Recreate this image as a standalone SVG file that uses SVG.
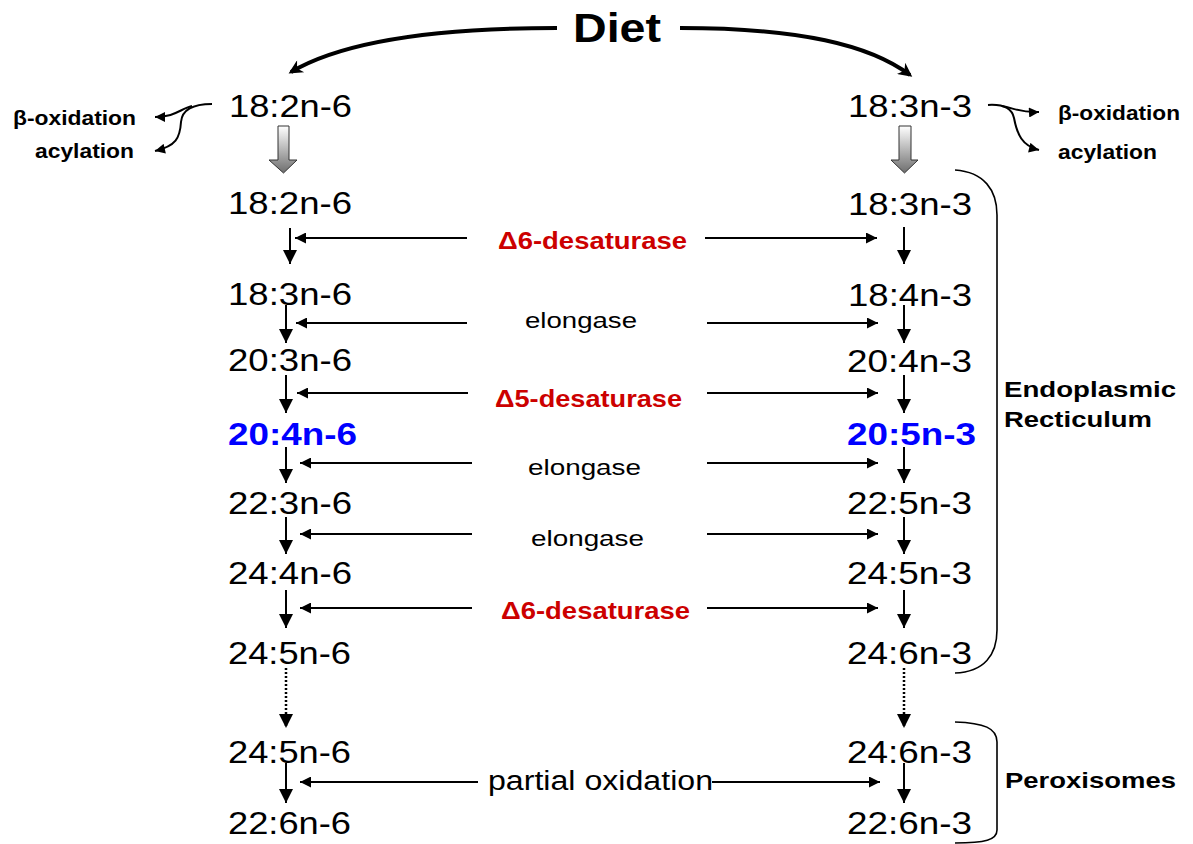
<svg xmlns="http://www.w3.org/2000/svg" width="1193" height="844" viewBox="0 0 1193 844">
<style>
text{font-family:"Liberation Sans",Arial,sans-serif;fill:#000}
.fa{font-size:31.5px}
.blue{font-size:31px;font-weight:bold;fill:#0000ff}
.red{font-size:24px;font-weight:bold;fill:#cc0000}
.enz{font-size:22px}
.side{font-size:20px;font-weight:bold}
.loc{font-size:22px;font-weight:bold}
.ln{stroke:#000;stroke-width:2;fill:none}
.dot{stroke:#000;stroke-width:2.5;fill:none;stroke-dasharray:2,2}
.brk{stroke:#000;stroke-width:1.6;fill:none}
</style>
<defs>
<marker id="ah" viewBox="0 0 10 10" refX="10" refY="5" markerUnits="userSpaceOnUse" markerWidth="13" markerHeight="11" orient="auto"><path d="M0,0 L10,5 L0,10 z" fill="#000"/></marker>
<marker id="ahv" viewBox="0 0 10 10" refX="10" refY="5" markerUnits="userSpaceOnUse" markerWidth="14" markerHeight="14" orient="auto"><path d="M0,0 L10,5 L0,10 z" fill="#000"/></marker>
<marker id="ahs" viewBox="0 0 10 10" refX="10" refY="5" markerUnits="userSpaceOnUse" markerWidth="11" markerHeight="10" orient="auto"><path d="M0,0 L10,5 L0,10 z" fill="#000"/></marker>
<marker id="ahb" viewBox="0 0 10 10" refX="8" refY="5" markerUnits="userSpaceOnUse" markerWidth="16" markerHeight="14" orient="auto"><path d="M0,0 L10,5 L0,10 L3,5 z" fill="#000"/></marker>
<linearGradient id="gr" x1="0" y1="0" x2="0" y2="1"><stop offset="0" stop-color="#ffffff"/><stop offset="1" stop-color="#6e6e6e"/></linearGradient>
</defs>

<g id="diet"><text x="573" y="42" font-size="41" font-weight="bold" textLength="88" lengthAdjust="spacingAndGlyphs">Diet</text></g>

<g id="left-18-2-top"><text class="fa" x="229" y="117" textLength="123" lengthAdjust="spacingAndGlyphs">18:2n-6</text></g>
<g id="right-18-3-top"><text class="fa" x="848" y="117" textLength="124" lengthAdjust="spacingAndGlyphs">18:3n-3</text></g>

<g id="left-side-beta"><text class="side" x="13" y="125" textLength="123" lengthAdjust="spacingAndGlyphs">β-oxidation</text></g>
<g id="left-side-acyl"><text class="side" x="35" y="158" textLength="99" lengthAdjust="spacingAndGlyphs">acylation</text></g>
<g id="right-side-beta"><text class="side" x="1058" y="120" textLength="122" lengthAdjust="spacingAndGlyphs">β-oxidation</text></g>
<g id="right-side-acyl"><text class="side" x="1058" y="159" textLength="99" lengthAdjust="spacingAndGlyphs">acylation</text></g>

<g id="block-left"><polygon points="278,126 289,126 289,160 297,160 283.5,173 269,160 278,160" fill="url(#gr)" stroke="#333" stroke-width="1"/></g>
<g id="block-right"><polygon points="899,126 911,126 911,160 918,160 904.5,173 891,160 899,160" fill="url(#gr)" stroke="#333" stroke-width="1"/></g>

<g id="n6-1"><text class="fa" x="228" y="214" textLength="124" lengthAdjust="spacingAndGlyphs">18:2n-6</text></g>
<g id="n6-2"><text class="fa" x="228" y="305" textLength="124" lengthAdjust="spacingAndGlyphs">18:3n-6</text></g>
<g id="n6-3"><text class="fa" x="228" y="371" textLength="124" lengthAdjust="spacingAndGlyphs">20:3n-6</text></g>
<g id="n6-4"><text class="blue" x="228" y="445" textLength="129" lengthAdjust="spacingAndGlyphs">20:4n-6</text></g>
<g id="n6-5"><text class="fa" x="228" y="514" textLength="124" lengthAdjust="spacingAndGlyphs">22:3n-6</text></g>
<g id="n6-6"><text class="fa" x="228" y="584" textLength="124" lengthAdjust="spacingAndGlyphs">24:4n-6</text></g>
<g id="n6-7"><text class="fa" x="228" y="664" textLength="123" lengthAdjust="spacingAndGlyphs">24:5n-6</text></g>
<g id="n6-8"><text class="fa" x="228" y="763" textLength="123" lengthAdjust="spacingAndGlyphs">24:5n-6</text></g>
<g id="n6-9"><text class="fa" x="228" y="834" textLength="123" lengthAdjust="spacingAndGlyphs">22:6n-6</text></g>

<g id="n3-1"><text class="fa" x="848" y="215" textLength="124" lengthAdjust="spacingAndGlyphs">18:3n-3</text></g>
<g id="n3-2"><text class="fa" x="848" y="306" textLength="124" lengthAdjust="spacingAndGlyphs">18:4n-3</text></g>
<g id="n3-3"><text class="fa" x="847" y="372" textLength="125" lengthAdjust="spacingAndGlyphs">20:4n-3</text></g>
<g id="n3-4"><text class="blue" x="847" y="445" textLength="129" lengthAdjust="spacingAndGlyphs">20:5n-3</text></g>
<g id="n3-5"><text class="fa" x="847" y="514" textLength="125" lengthAdjust="spacingAndGlyphs">22:5n-3</text></g>
<g id="n3-6"><text class="fa" x="847" y="584" textLength="125" lengthAdjust="spacingAndGlyphs">24:5n-3</text></g>
<g id="n3-7"><text class="fa" x="847" y="664" textLength="125" lengthAdjust="spacingAndGlyphs">24:6n-3</text></g>
<g id="n3-8"><text class="fa" x="847" y="763" textLength="125" lengthAdjust="spacingAndGlyphs">24:6n-3</text></g>
<g id="n3-9"><text class="fa" x="847" y="834" textLength="125" lengthAdjust="spacingAndGlyphs">22:6n-3</text></g>

<g id="enz-d6a"><text class="red" x="498" y="249" textLength="189" lengthAdjust="spacingAndGlyphs">Δ6-desaturase</text></g>
<g id="enz-el1"><text class="enz" x="525" y="328" textLength="112" lengthAdjust="spacingAndGlyphs">elongase</text></g>
<g id="enz-d5"><text class="red" x="495" y="407" textLength="187" lengthAdjust="spacingAndGlyphs">Δ5-desaturase</text></g>
<g id="enz-el2"><text class="enz" x="528" y="475" textLength="113" lengthAdjust="spacingAndGlyphs">elongase</text></g>
<g id="enz-el3"><text class="enz" x="531" y="546" textLength="113" lengthAdjust="spacingAndGlyphs">elongase</text></g>
<g id="enz-d6b"><text class="red" x="501" y="619" textLength="189" lengthAdjust="spacingAndGlyphs">Δ6-desaturase</text></g>
<g id="enz-po"><text x="488" y="790" font-size="27" textLength="225" lengthAdjust="spacingAndGlyphs">partial oxidation</text></g>

<g id="er-label"><text class="loc" x="1004" y="397" textLength="172" lengthAdjust="spacingAndGlyphs">Endoplasmic</text><text class="loc" x="1004" y="427" textLength="148" lengthAdjust="spacingAndGlyphs">Recticulum</text></g>
<g id="perox-label"><text class="loc" x="1005" y="788" textLength="171" lengthAdjust="spacingAndGlyphs">Peroxisomes</text></g>

<g id="brackets">
<path class="brk" d="M955,170 C984,172 997,190 997,215 L997,630 C997,655 984,672 955,673"/>
<path class="brk" d="M955,722 C984,723 997,728 997,742 L997,830 C997,840 985,843 955,843"/>
</g>

<g id="connectors">
<path d="M557,28 C440,28 345,40 291,72" stroke="#000" stroke-width="4" fill="none" marker-end="url(#ahb)"/>
<path d="M680,28 C800,28 870,45 910,75" stroke="#000" stroke-width="4" fill="none" marker-end="url(#ahb)"/>

<path class="ln" d="M212,104 C192,104 182,110 181,122 C180,138 176,146 155,151" marker-end="url(#ahs)" stroke-width="1.8"/>
<path class="ln" d="M192,106 C180,109 175,117 155,117" marker-end="url(#ahs)" stroke-width="1.8"/>
<path class="ln" d="M988,105 C1004,104 1012,109 1014,118 C1017,134 1022,146 1039,150" marker-end="url(#ahs)" stroke-width="1.8"/>
<path class="ln" d="M1002,106 C1014,108 1020,113 1039,112" marker-end="url(#ahs)" stroke-width="1.8"/>

<line class="ln" x1="290" y1="228" x2="290" y2="264" marker-end="url(#ahv)"/>
<line class="ln" x1="286" y1="305" x2="286" y2="343" marker-end="url(#ahv)"/>
<line class="ln" x1="286" y1="375" x2="286" y2="413" marker-end="url(#ahv)"/>
<line class="ln" x1="286" y1="447" x2="286" y2="483" marker-end="url(#ahv)"/>
<line class="ln" x1="286" y1="517" x2="286" y2="554" marker-end="url(#ahv)"/>
<line class="ln" x1="286" y1="590" x2="286" y2="628" marker-end="url(#ahv)"/>
<line class="dot" x1="286" y1="668" x2="286" y2="728" marker-end="url(#ahv)"/>
<line class="ln" x1="286" y1="763" x2="286" y2="803" marker-end="url(#ahv)"/>

<line class="ln" x1="904" y1="227" x2="904" y2="264" marker-end="url(#ahv)"/>
<line class="ln" x1="904" y1="305" x2="904" y2="343" marker-end="url(#ahv)"/>
<line class="ln" x1="904" y1="375" x2="904" y2="413" marker-end="url(#ahv)"/>
<line class="ln" x1="904" y1="447" x2="904" y2="483" marker-end="url(#ahv)"/>
<line class="ln" x1="904" y1="517" x2="904" y2="554" marker-end="url(#ahv)"/>
<line class="ln" x1="904" y1="590" x2="904" y2="628" marker-end="url(#ahv)"/>
<line class="dot" x1="904" y1="668" x2="904" y2="728" marker-end="url(#ahv)"/>
<line class="ln" x1="904" y1="763" x2="904" y2="803" marker-end="url(#ahv)"/>

<line class="ln" x1="467" y1="238" x2="295" y2="238" marker-end="url(#ah)"/>
<line class="ln" x1="467" y1="323" x2="296" y2="323" marker-end="url(#ah)"/>
<line class="ln" x1="468" y1="393" x2="297" y2="393" marker-end="url(#ah)"/>
<line class="ln" x1="472" y1="463" x2="300" y2="463" marker-end="url(#ah)"/>
<line class="ln" x1="472" y1="534" x2="300" y2="534" marker-end="url(#ah)"/>
<line class="ln" x1="472" y1="608" x2="300" y2="608" marker-end="url(#ah)"/>
<line class="ln" x1="478" y1="782" x2="300" y2="782" marker-end="url(#ah)"/>

<line class="ln" x1="705" y1="238" x2="877" y2="238" marker-end="url(#ah)"/>
<line class="ln" x1="707" y1="323" x2="878" y2="323" marker-end="url(#ah)"/>
<line class="ln" x1="707" y1="393" x2="878" y2="393" marker-end="url(#ah)"/>
<line class="ln" x1="707" y1="463" x2="878" y2="463" marker-end="url(#ah)"/>
<line class="ln" x1="707" y1="534" x2="878" y2="534" marker-end="url(#ah)"/>
<line class="ln" x1="707" y1="608" x2="878" y2="608" marker-end="url(#ah)"/>
<line class="ln" x1="712" y1="782" x2="880" y2="782" marker-end="url(#ah)"/>
</g>
</svg>
